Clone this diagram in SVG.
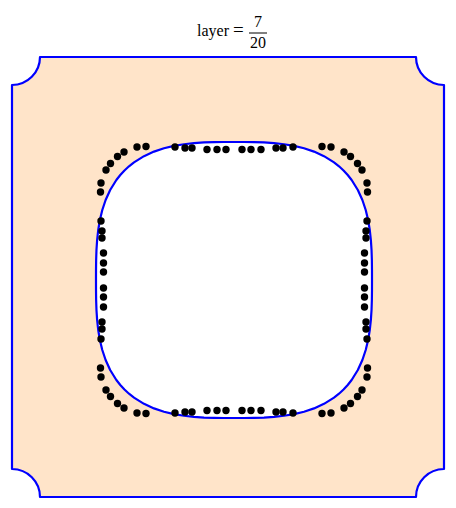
<svg xmlns="http://www.w3.org/2000/svg" width="456" height="508" viewBox="0 0 456 508">
<style>
.t{font-family:"Liberation Serif","Times New Roman",serif;font-size:16px;fill:#000}
.edge{stroke:#0000FF;stroke-width:2.2;stroke-linejoin:round}
.d{fill:#000}
</style>
<rect width="456" height="508" fill="#fff"/>
<g id="title">
<text class="t" x="197" y="36">layer</text>
<text class="t" x="233" y="36" style="font-size:19px">=</text>
<text class="t" x="258" y="27" text-anchor="middle">7</text>
<line x1="249" y1="33" x2="267" y2="33" stroke="#000" stroke-width="1"/>
<text class="t" x="258" y="48" text-anchor="middle">20</text>
</g>
<g id="board">
<path class="edge" fill="#FFE4C9" d="M40,57 H416 A28,28 0 0 0 444,85 V469 A28,28 0 0 0 416,497 H40 A28,28 0 0 0 12,469 V85 A28,28 0 0 0 40,57 Z"/>
<path class="edge" fill="#fff" d="M372,280 L371.98,270 371.86,260 371.53,250 370.87,240 369.78,230 368.11,220 365.71,210 362.38,200 357.84,190 351.64,180 347.71,175 343.53,170.47 339,166.29 334,162.36 324,156.16 314,151.62 304,148.29 294,145.89 284,144.22 274,143.13 264,142.47 254,142.14 244,142.02 234,142 224,142.02 214,142.14 204,142.47 194,143.13 184,144.22 174,145.89 164,148.29 154,151.62 144,156.16 134,162.36 129,166.29 124.47,170.47 120.29,175 116.36,180 110.16,190 105.62,200 102.29,210 99.89,220 98.22,230 97.13,240 96.47,250 96.14,260 96.02,270 96,280 96.02,290 96.14,300 96.47,310 97.13,320 98.22,330 99.89,340 102.29,350 105.62,360 110.16,370 116.36,380 120.29,385 124.47,389.53 129,393.71 134,397.64 144,403.84 154,408.38 164,411.71 174,414.11 184,415.78 194,416.87 204,417.53 214,417.86 224,417.98 234,418 244,417.98 254,417.86 264,417.53 274,416.87 284,415.78 294,414.11 304,411.71 314,408.38 324,403.84 334,397.64 339,393.71 343.53,389.53 347.71,385 351.64,380 357.84,370 362.38,360 365.71,350 368.11,340 369.78,330 370.87,320 371.53,310 371.86,300 371.98,290 Z"/>
</g>
<g id="dots">
<circle class="d" r="3.7" cx="175" cy="147"/><circle class="d" r="3.7" cx="185" cy="148"/><circle class="d" r="3.7" cx="192" cy="148"/><circle class="d" r="3.7" cx="207" cy="149.5"/><circle class="d" r="3.7" cx="217" cy="149.5"/><circle class="d" r="3.7" cx="226" cy="149.5"/><circle class="d" r="3.7" cx="242" cy="149.5"/><circle class="d" r="3.7" cx="251" cy="149.5"/><circle class="d" r="3.7" cx="261" cy="149.5"/><circle class="d" r="3.7" cx="276" cy="148"/><circle class="d" r="3.7" cx="283" cy="148"/><circle class="d" r="3.7" cx="293" cy="147"/>
<circle class="d" r="3.7" cx="175" cy="413"/><circle class="d" r="3.7" cx="185" cy="412"/><circle class="d" r="3.7" cx="192" cy="412"/><circle class="d" r="3.7" cx="207" cy="410.5"/><circle class="d" r="3.7" cx="217" cy="410.5"/><circle class="d" r="3.7" cx="226" cy="410.5"/><circle class="d" r="3.7" cx="242" cy="410.5"/><circle class="d" r="3.7" cx="251" cy="410.5"/><circle class="d" r="3.7" cx="261" cy="410.5"/><circle class="d" r="3.7" cx="276" cy="412"/><circle class="d" r="3.7" cx="283" cy="412"/><circle class="d" r="3.7" cx="293" cy="413"/>
<circle class="d" r="3.7" cx="101" cy="221"/><circle class="d" r="3.7" cx="102" cy="231"/><circle class="d" r="3.7" cx="102" cy="238"/><circle class="d" r="3.7" cx="103.5" cy="253"/><circle class="d" r="3.7" cx="103.5" cy="263"/><circle class="d" r="3.7" cx="103.5" cy="272"/><circle class="d" r="3.7" cx="103.5" cy="288"/><circle class="d" r="3.7" cx="103.5" cy="297"/><circle class="d" r="3.7" cx="103.5" cy="307"/><circle class="d" r="3.7" cx="102" cy="322"/><circle class="d" r="3.7" cx="102" cy="329"/><circle class="d" r="3.7" cx="101" cy="339"/>
<circle class="d" r="3.7" cx="367" cy="221"/><circle class="d" r="3.7" cx="366" cy="231"/><circle class="d" r="3.7" cx="366" cy="238"/><circle class="d" r="3.7" cx="364.5" cy="253"/><circle class="d" r="3.7" cx="364.5" cy="263"/><circle class="d" r="3.7" cx="364.5" cy="272"/><circle class="d" r="3.7" cx="364.5" cy="288"/><circle class="d" r="3.7" cx="364.5" cy="297"/><circle class="d" r="3.7" cx="364.5" cy="307"/><circle class="d" r="3.7" cx="366" cy="322"/><circle class="d" r="3.7" cx="366" cy="329"/><circle class="d" r="3.7" cx="367" cy="339"/>
<circle class="d" r="3.7" cx="146" cy="146.5"/><circle class="d" r="3.7" cx="137" cy="147"/><circle class="d" r="3.7" cx="124" cy="152"/><circle class="d" r="3.7" cx="117.5" cy="156.5"/><circle class="d" r="3.7" cx="110.5" cy="163.5"/><circle class="d" r="3.7" cx="106" cy="170"/><circle class="d" r="3.7" cx="101" cy="183"/><circle class="d" r="3.7" cx="100.5" cy="192"/>
<circle class="d" r="3.7" cx="322" cy="146.5"/><circle class="d" r="3.7" cx="331" cy="147"/><circle class="d" r="3.7" cx="344" cy="152"/><circle class="d" r="3.7" cx="350.5" cy="156.5"/><circle class="d" r="3.7" cx="357.5" cy="163.5"/><circle class="d" r="3.7" cx="362" cy="170"/><circle class="d" r="3.7" cx="367" cy="183"/><circle class="d" r="3.7" cx="367.5" cy="192"/>
<circle class="d" r="3.7" cx="146" cy="413.5"/><circle class="d" r="3.7" cx="137" cy="413"/><circle class="d" r="3.7" cx="124" cy="408"/><circle class="d" r="3.7" cx="117.5" cy="403.5"/><circle class="d" r="3.7" cx="110.5" cy="396.5"/><circle class="d" r="3.7" cx="106" cy="390"/><circle class="d" r="3.7" cx="101" cy="377"/><circle class="d" r="3.7" cx="100.5" cy="368"/>
<circle class="d" r="3.7" cx="322" cy="413.5"/><circle class="d" r="3.7" cx="331" cy="413"/><circle class="d" r="3.7" cx="344" cy="408"/><circle class="d" r="3.7" cx="350.5" cy="403.5"/><circle class="d" r="3.7" cx="357.5" cy="396.5"/><circle class="d" r="3.7" cx="362" cy="390"/><circle class="d" r="3.7" cx="367" cy="377"/><circle class="d" r="3.7" cx="367.5" cy="368"/>
</g>
</svg>
